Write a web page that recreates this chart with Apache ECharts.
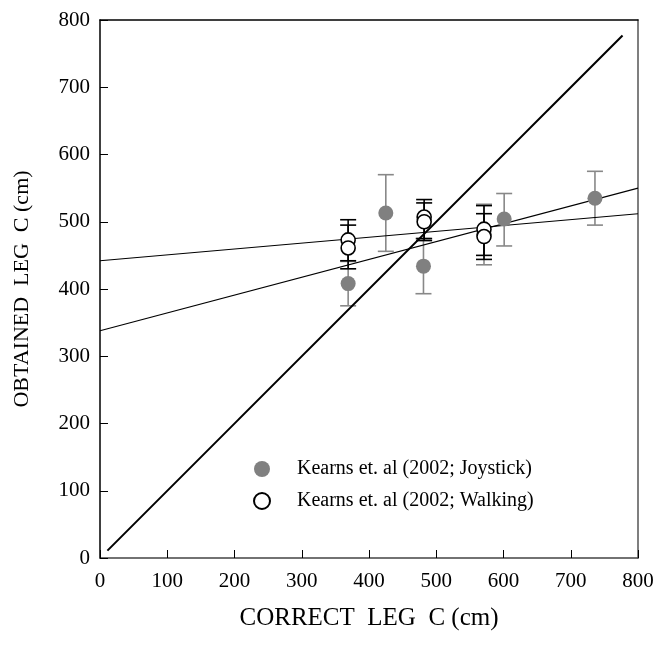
<!DOCTYPE html>
<html>
<head>
<meta charset="utf-8">
<script src="https://cdn.jsdelivr.net/npm/echarts@6/dist/echarts.min.js"></script>
<style>
html,body{margin:0;padding:0;background:#fff;}
#chart{width:657px;height:645px;}
</style>
</head>
<body>
<div id="chart"></div>
<script>
// ---- data ----
var xTicks = [0, 100, 200, 300, 400, 500, 600, 700, 800];
var yTicks = [0, 100, 200, 300, 400, 500, 600, 700, 800];

var joystickX    = [369, 425, 481, 571, 601, 736];
var joystickY    = [408, 513, 434, 482, 504, 535];
var joystickLow  = [375, 456, 393, 436, 464, 495];
var joystickHigh = [441, 570, 475, 526, 542, 575];

var walkingX    = [369, 369, 482, 482, 571, 571];
var walkingY    = [473, 461, 507, 500, 489, 478];
var walkingLow  = [442, 430, 475, 472, 450, 444];
var walkingHigh = [503, 495, 533, 528, 524, 512];

var identityLine  = [[11, 11], [777, 777]];
var joystickFit   = [[0, 338], [800, 550]];
var walkingFit    = [[0, 442], [800, 512]];

var joystickName = 'Kearns et. al (2002; Joystick)';
var walkingName  = 'Kearns et. al (2002; Walking)';

// ---- build ----
function zip(xs, ys) { return xs.map(function (x, i) { return [x, ys[i]]; }); }
function errData(xs, lo, hi) { return xs.map(function (x, i) { return [x, lo[i], hi[i]]; }); }

function errRender(color) {
  return function (params, api) {
    var x = api.value(0);
    var lo = api.coord([x, api.value(1)]);
    var hi = api.coord([x, api.value(2)]);
    var w = 8;
    var st = { stroke: color, lineWidth: 1.6 };
    return {
      type: 'group',
      children: [
        { type: 'line', shape: { x1: lo[0], y1: lo[1], x2: hi[0], y2: hi[1] }, style: st },
        { type: 'line', shape: { x1: lo[0] - w, y1: lo[1], x2: lo[0] + w, y2: lo[1] }, style: st },
        { type: 'line', shape: { x1: hi[0] - w, y1: hi[1], x2: hi[0] + w, y2: hi[1] }, style: st }
      ]
    };
  };
}

var font = 'Liberation Serif';
var chart = echarts.init(document.getElementById('chart'), null, { renderer: 'canvas' });

chart.setOption({
  animation: false,
  backgroundColor: '#fff',
  grid: { left: 100, right: 19, top: 20, bottom: 87, containLabel: false },
  legend: {
    left: 248, top: 454, orient: 'vertical', itemGap: 12,
    itemWidth: 16, itemHeight: 16,
    textStyle: { fontFamily: font, fontSize: 20, color: '#000', padding: [0, 0, 0, 22] },
    data: [
      { name: joystickName, icon: 'circle' },
      { name: walkingName, icon: 'circle' }
    ]
  },
  xAxis: [{
    type: 'value', min: 0, max: 800, interval: 100, position: 'bottom',
    name: 'CORRECT  LEG  C (cm)', nameLocation: 'middle', nameGap: 48,
    nameTextStyle: { fontFamily: font, fontSize: 25, color: '#000' },
    axisLine: { show: true, onZero: false, lineStyle: { color: '#444', width: 1.5 } },
    axisTick: { show: true, inside: true, length: 8, lineStyle: { color: '#000', width: 1 } },
    axisLabel: { fontFamily: font, fontSize: 21, color: '#000', margin: 13 },
    splitLine: { show: false }
  }, {
    type: 'value', min: 0, max: 800, position: 'top',
    axisLine: { show: true, onZero: false, lineStyle: { color: '#000', width: 1.5 } },
    axisTick: { show: false }, axisLabel: { show: false }, splitLine: { show: false }
  }],
  yAxis: [{
    type: 'value', min: 0, max: 800, interval: 100, position: 'left',
    name: 'OBTAINED  LEG  C (cm)', nameLocation: 'middle', nameGap: 67, nameRotate: 90,
    nameTextStyle: { fontFamily: font, fontSize: 22, color: '#000' },
    axisLine: { show: true, onZero: false, lineStyle: { color: '#000', width: 1.5 } },
    axisTick: { show: true, inside: true, length: 8, lineStyle: { color: '#000', width: 1 } },
    axisLabel: { fontFamily: font, fontSize: 21, color: '#000', margin: 10 },
    splitLine: { show: false }
  }, {
    type: 'value', min: 0, max: 800, position: 'right',
    axisLine: { show: true, onZero: false, lineStyle: { color: '#555', width: 1.5 } },
    axisTick: { show: false }, axisLabel: { show: false }, splitLine: { show: false }
  }],
  series: [
    {
      type: 'line', data: identityLine, symbol: 'none', z: 3,
      lineStyle: { color: '#000', width: 2 }, silent: true
    },
    {
      type: 'line', data: joystickFit, symbol: 'none', z: 3,
      lineStyle: { color: '#000', width: 1.1 }, silent: true
    },
    {
      type: 'line', data: walkingFit, symbol: 'none', z: 3,
      lineStyle: { color: '#000', width: 1.1 }, silent: true
    },
    {
      type: 'custom', name: 'jErr', renderItem: errRender('#888'),
      data: errData(joystickX, joystickLow, joystickHigh), z: 2, silent: true
    },
    {
      type: 'scatter', name: joystickName, data: zip(joystickX, joystickY),
      symbol: 'circle', symbolSize: 15, z: 4,
      itemStyle: { color: '#808080', opacity: 1 }
    },
    {
      type: 'custom', name: 'wErr', renderItem: errRender('#000'),
      data: errData(walkingX, walkingLow, walkingHigh), z: 5, silent: true
    },
    {
      type: 'scatter', name: walkingName, data: zip(walkingX, walkingY),
      symbol: 'circle', symbolSize: 14, z: 6,
      itemStyle: { color: '#fff', borderColor: '#000', borderWidth: 1.6, opacity: 1 }
    }
  ]
});
</script>
</body>
</html>
